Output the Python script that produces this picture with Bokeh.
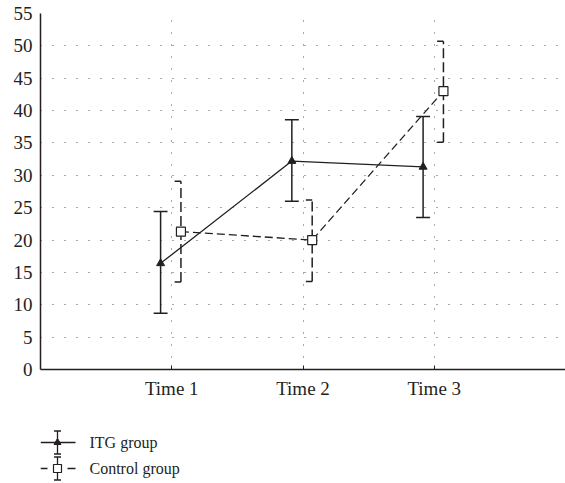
import numpy as np
from bokeh.plotting import figure
from bokeh.layouts import column
from bokeh.models import Range1d, FixedTicker, ColumnDataSource
from bokeh.core.properties import value
from bokeh.embed import file_html
from bokeh.resources import INLINE

# ---- data ----
times = ["Time 1", "Time 2", "Time 3"]
time_pos = [1, 2, 3]
itg_mean = [16.4, 32.2, 31.3]
itg_upper = [24.4, 38.6, 39.1]
itg_lower = [8.7, 26.0, 23.5]
ctrl_mean = [21.3, 20.0, 43.0]
ctrl_upper = [29.1, 26.2, 50.7]
ctrl_lower = [13.5, 13.6, 35.1]
y_ticks = list(range(0, 56, 5))
legend_labels = ["ITG group", "Control group"]

INK = "#231f20"
FONT = "Liberation Serif"

itg_off = -0.085
ctrl_off = 0.07
itg_cap = 0.053
ctrl_cap = 0.048

itg_x = [t + itg_off for t in time_pos]
ctrl_x = [t + ctrl_off for t in time_pos]

itg_src = ColumnDataSource(dict(x=itg_x, y=itg_mean, up=itg_upper, lo=itg_lower,
                                cl=[x - itg_cap for x in itg_x], cr=[x + itg_cap for x in itg_x]))
ctrl_src = ColumnDataSource(dict(x=ctrl_x, y=ctrl_mean, up=ctrl_upper, lo=ctrl_lower,
                                 cl=[x - ctrl_cap for x in ctrl_x], cr=ctrl_x))

p = figure(x_range=Range1d(0, 4), y_range=Range1d(0, 55),
           output_backend="svg", toolbar_location=None)
p.frame_width = 525
p.frame_height = 356
p.min_border_left = 40
p.min_border_right = 0
p.min_border_top = 13
p.min_border_bottom = 51
p.outline_line_color = None
p.background_fill_color = "white"
p.border_fill_color = "white"

# grids
p.xgrid.ticker = FixedTicker(ticks=time_pos)
p.ygrid.ticker = FixedTicker(ticks=y_ticks[1:-1])
for g in (p.xgrid, p.ygrid):
    g.grid_line_color = "#555555"
    g.grid_line_dash = "1 11"
    g.grid_line_width = 1

# axes
p.xaxis.ticker = FixedTicker(ticks=time_pos)
p.xaxis.major_label_overrides = {t: lab for t, lab in zip(time_pos, times)}
p.yaxis.ticker = FixedTicker(ticks=y_ticks)
for ax in (p.xaxis, p.yaxis):
    ax.axis_line_color = INK
    ax.axis_line_width = 1.5
    ax.major_tick_line_color = INK
    ax.minor_tick_line_color = None
    ax.major_label_text_font = FONT
    ax.major_label_text_font_size = "19px"
    ax.major_label_text_color = INK
p.xaxis.major_tick_in = 4
p.xaxis.major_tick_out = 0
p.xaxis.major_label_standoff = 8
p.yaxis.major_tick_in = 0
p.yaxis.major_tick_out = 0
p.yaxis.major_label_standoff = 8

# ITG group
p.line("x", "y", source=itg_src, line_color=INK, line_width=1.3)
p.segment("x", "lo", "x", "up", source=itg_src, line_color=INK, line_width=1.5)
p.segment("cl", "up", "cr", "up", source=itg_src, line_color=INK, line_width=1.5)
p.segment("cl", "lo", "cr", "lo", source=itg_src, line_color=INK, line_width=1.5)
p.scatter("x", "y", source=itg_src, marker="triangle", size=8, fill_color=INK, line_color=INK)

# Control group
p.line("x", "y", source=ctrl_src, line_color=INK, line_width=1.3, line_dash="8 4")
p.segment("x", "lo", "x", "up", source=ctrl_src, line_color=INK, line_width=1.5, line_dash="10 4")
p.segment("cl", "up", "cr", "up", source=ctrl_src, line_color=INK, line_width=1.5)
p.segment("cl", "lo", "cr", "lo", source=ctrl_src, line_color=INK, line_width=1.5)
p.scatter("x", "y", source=ctrl_src, marker="square", size=9, fill_color="white",
          line_color=INK, line_width=1.2)

# ---- legend strip (frame aligned with the main plot's frame, y downward) ----
LW, LH = 525, 63
lg = figure(x_range=Range1d(0, LW), y_range=Range1d(LH, 0),
            output_backend="svg", toolbar_location=None,
            x_axis_location=None, y_axis_location=None)
lg.frame_width = LW
lg.frame_height = LH
lg.min_border_left = 0
lg.min_border_right = 0
lg.min_border_top = 0
lg.min_border_bottom = 0
lg.outline_line_color = None
lg.grid.visible = False
lg.background_fill_color = "white"
lg.border_fill_color = "white"

row_y = [22, 48]
kx0, kx1, kxc = 0, 35, 17
bar_half, cap_half = 11.5, 3.5
# ITG key
lg.segment(x0=[kx0], y0=[row_y[0]], x1=[kx1], y1=[row_y[0]], line_color=INK, line_width=1.3)
# Control key (dashed fragments either side of marker)
lg.segment(x0=[kx0, kx1 - 8], y0=[row_y[1]] * 2, x1=[kx0 + 7, kx1], y1=[row_y[1]] * 2,
           line_color=INK, line_width=1.3)
# error-bar glyphs in keys
lg.segment(x0=[kxc] * 2, y0=[y - bar_half for y in row_y], x1=[kxc] * 2,
           y1=[y + bar_half for y in row_y], line_color=INK, line_width=1.3)
cap_y = [y + s * bar_half for y in row_y for s in (-1, 1)]
lg.segment(x0=[kxc - cap_half] * 4, y0=cap_y, x1=[kxc + cap_half] * 4, y1=cap_y,
           line_color=INK, line_width=1.3)
lg.scatter(x=[kxc], y=[row_y[0]], marker="triangle", size=7, fill_color=INK, line_color=INK)
lg.scatter(x=[kxc], y=[row_y[1]], marker="square", size=8, fill_color="white",
           line_color=INK, line_width=1.2)
lg.text(x=[49, 49], y=row_y, text=legend_labels, text_font=value(FONT),
        text_font_size="16px", text_baseline="middle", text_color=INK)

open("out.html", "w").write(file_html(column(p, lg, spacing=0), INLINE))
